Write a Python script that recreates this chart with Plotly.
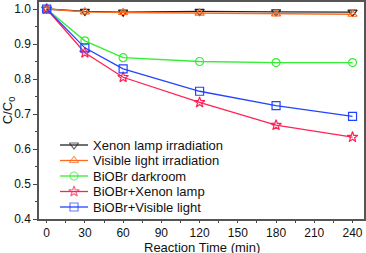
import plotly.graph_objects as go

time = [0, 30, 60, 120, 180, 240]
xenon = [1.0, 0.993, 0.991, 0.993, 0.992, 0.991]
visible = [1.0, 0.992, 0.990, 0.988, 0.986, 0.985]
dark = [1.0, 0.909, 0.861, 0.850, 0.847, 0.847]
biobr_xenon = [1.0, 0.875, 0.805, 0.733, 0.668, 0.634]
biobr_visible = [1.0, 0.889, 0.829, 0.765, 0.724, 0.693]

names = ["Xenon lamp irradiation", "Visible light irradiation", "BiOBr darkroom",
         "BiOBr+Xenon lamp", "BiOBr+Visible light"]
series = [xenon, visible, dark, biobr_xenon, biobr_visible]
colors = ["#222222", "#FF6A1F", "#33EE33", "#FF2255", "#2244FF"]
symbols = ["triangle-down-open", "triangle-up-open", "circle-open", "star-open", "square-open"]

W, H = 366, 253
L, R, T, B = 39, 2, 2, 34

fig = go.Figure()
for n, s, c, m in zip(names, series, colors, symbols):
    fig.add_trace(go.Scatter(x=time, y=s, name=n, mode="lines+markers", showlegend=False,
                             line=dict(color=c, width=1.3),
                             marker=dict(symbol=m, size=8, color=c, line=dict(color=c, width=1.2))))

# manual compact legend on a hidden pixel-like overlay axis
leg_top, leg_step = 145, 15.5
for i, (n, c, m) in enumerate(zip(names, colors, symbols)):
    yy = leg_top + i * leg_step
    fig.add_trace(go.Scatter(x=[60, 74, 88], y=[yy, yy, yy], xaxis="x2", yaxis="y2",
                             mode="lines+markers", showlegend=False, hoverinfo="skip",
                             line=dict(color=c, width=1.3),
                             marker=dict(symbol=m, size=[0, 8, 0], color=c, line=dict(color=c, width=1.2))))
    fig.add_annotation(x=91, y=yy, xref="x2", yref="y2", text=n, showarrow=False,
                       xanchor="left", yanchor="middle", font=dict(size=13, color="#111"))

# x-axis title
fig.add_annotation(x=0.5, y=(H - B - 247) / (H - T - B), xref="paper", yref="paper",
                   text="Reaction Time (min)", showarrow=False, height=12, borderpad=0,
                   xanchor="center", yanchor="middle", font=dict(size=13, color="#111"))

fig.update_layout(
    width=W, height=H,
    margin=dict(l=L, r=R, t=T, b=B),
    plot_bgcolor="white", paper_bgcolor="white",
    font=dict(family="Arial, Liberation Sans", size=12, color="#111"),
    xaxis2=dict(overlaying="x", range=[L, W - R], visible=False, fixedrange=True),
    yaxis2=dict(overlaying="y", range=[H - B, T], visible=False, fixedrange=True),
    xaxis=dict(range=[-6, 249], tickvals=[0, 30, 60, 90, 120, 150, 180, 210, 240], automargin=False,
               ticks="outside", ticklen=2, showline=True, linecolor="#555", linewidth=1.5, mirror=True,
               showgrid=False, zeroline=False,
               minor=dict(tickvals=[15, 45, 75, 105, 135, 165, 195, 225], ticks="outside", ticklen=2)),
    yaxis=dict(range=[0.4, 1.02], tickvals=[0.4, 0.5, 0.6, 0.7, 0.8, 0.9, 1.0], tickformat=".1f",
               automargin=False,
               ticks="outside", ticklen=4, showline=True, linecolor="#555", linewidth=1.5, mirror=True,
               showgrid=False, zeroline=False,
               minor=dict(tickvals=[0.45, 0.55, 0.65, 0.75, 0.85, 0.95], ticks="outside", ticklen=2),
               title=dict(text="C/C<sub>0</sub>", standoff=4, font=dict(size=13))),
)

fig.write_html("out.html", config={"displayModeBar": False},
               post_script="document.body.style.margin='0';document.body.style.overflow='hidden';")
